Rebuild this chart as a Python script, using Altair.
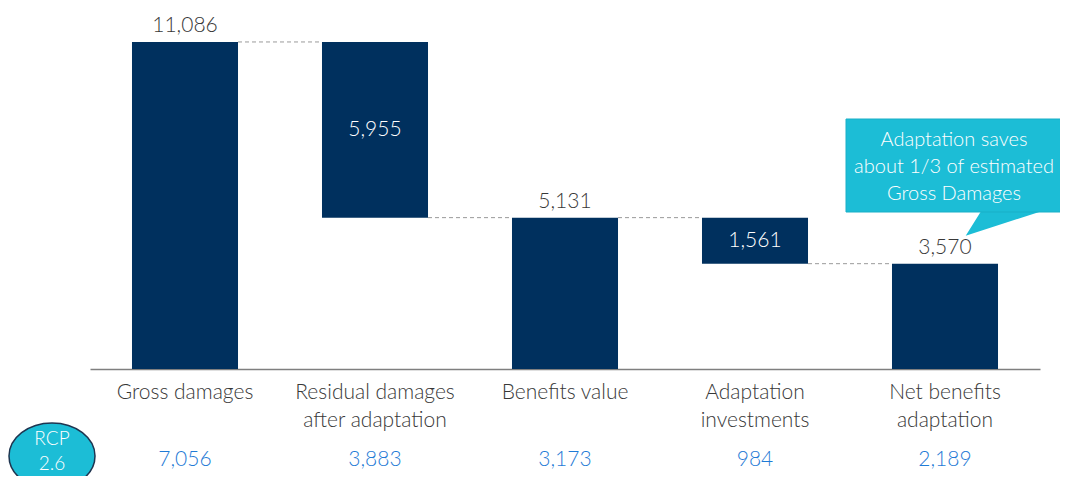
import altair as alt
import pandas as pd

# ---- data ----
categories = ["Gross damages", "Residual damages\nafter adaptation", "Benefits value",
              "Adaptation\ninvestments", "Net benefits\nadaptation"]
bar_start = [0, 5131, 0, 3570, 0]
bar_end = [11086, 11086, 5131, 5131, 3570]
bar_value = [11086, 5955, 5131, 1561, 3570]
label_inside = [False, True, False, True, False]
rcp_values = [7056, 3883, 3173, 984, 2189]
connector_from = [0, 1, 2, 3]
connector_level = [11086, 5131, 5131, 3570]
callout_lines = ["Adaptation saves", "about 1/3 of estimated", "Gross Damages"]
rcp_label = ["RCP", "2.6"]

NAVY = "#00305E"
CYAN = "#1CBDD6"
GRAY = "#383838"
BLUE = "#1F7BD6"
FONT = "Lato"
FW = 300
FS = 21
HALF = 0.279

idx = list(range(len(categories)))
bars = pd.DataFrame({
    "idx": idx, "cat": categories, "start": bar_start, "end": bar_end,
    "value": bar_value, "inside": label_inside, "rcp": rcp_values,
})
bars["x0"] = bars["idx"] - HALF
bars["x1"] = bars["idx"] + HALF
bars["mid"] = (bars["start"] + bars["end"]) / 2

conn = pd.DataFrame({"i": connector_from, "level": connector_level})
conn["x0"] = conn["i"] + HALF
conn["x1"] = conn["i"] + 1 - HALF

xs = alt.Scale(domain=[-0.5, 4.5], nice=False, zero=False)
ys = alt.Scale(domain=[0, 12000], nice=False)

base = alt.Chart(bars)

bar_layer = base.mark_rect(color=NAVY).encode(
    x=alt.X("x0:Q", scale=xs, axis=alt.Axis(labels=False, ticks=False, grid=False, title=None,
                                            domainColor="#7F7F7F", domainWidth=1.5)),
    x2="x1:Q",
    y=alt.Y("start:Q", scale=ys, axis=None),
    y2="end:Q",
)

conn_layer = alt.Chart(conn).mark_rule(color="#9A9A9A", strokeDash=[4, 3], strokeWidth=1).encode(
    x=alt.X("x0:Q", scale=xs), x2="x1:Q", y=alt.Y("level:Q", scale=ys)
)

top_labels = base.transform_filter("!datum.inside").mark_text(
    font=FONT, fontSize=FS, fontWeight=FW, color=GRAY, baseline="middle", dy=-16
).encode(x=alt.X("idx:Q", scale=xs), y=alt.Y("end:Q", scale=ys), text=alt.Text("value:Q", format=","))

in_labels = base.transform_filter("datum.inside").mark_text(
    font=FONT, fontSize=FS, fontWeight=FW, color="white", baseline="middle"
).encode(x=alt.X("idx:Q", scale=xs), y=alt.Y("mid:Q", scale=ys), text=alt.Text("value:Q", format=","))

cat_labels = base.mark_text(
    font=FONT, fontSize=FS, fontWeight=FW, color=GRAY, baseline="top", lineBreak="\n", lineHeight=28
).encode(x=alt.X("idx:Q", scale=xs), y=alt.value(367), text="cat:N")

rcp_layer = base.mark_text(
    font=FONT, fontSize=FS, fontWeight=FW, color=BLUE, baseline="middle"
).encode(x=alt.X("idx:Q", scale=xs), y=alt.value(445), text=alt.Text("rcp:Q", format=","))

ellipse = alt.Chart(pd.DataFrame({"k": [0]})).mark_point(
    shape="M-1,0 A1,0.77 0 1,1 1,0 A1,0.77 0 1,1 -1,0 Z",
    filled=True, fill=CYAN, stroke="#1F3550", strokeWidth=1.5, opacity=1, size=7396,
).encode(x=alt.value(-38), y=alt.value(441))

rcp_text = alt.Chart(pd.DataFrame({"t": rcp_label, "yy": [424, 449]})).mark_text(
    font=FONT, fontSize=19, fontWeight=FW, color="white", baseline="middle"
).encode(x=alt.value(-38), y=alt.Y("yy:Q", scale=None), text="t:N")

pointer = alt.Chart(pd.DataFrame({"k": [0]})).mark_point(
    shape="M-0.595,-0.35 L1,-0.35 L-1,0.297 Z",
    filled=True, fill=CYAN, stroke=CYAN, opacity=1, size=5476,
).encode(x=alt.value(915), y=alt.value(208))

box = alt.Chart(pd.DataFrame({"k": [0]})).mark_rect(fill=CYAN, stroke="#19AFC7", strokeWidth=1).encode(
    x=alt.value(756), x2=alt.value(990), y=alt.value(104), y2=alt.value(197)
)
box_text = alt.Chart(pd.DataFrame({"t": callout_lines, "yy": [125, 152, 179]})).mark_text(
    font=FONT, fontSize=20, fontWeight=FW, color="white", baseline="middle"
).encode(x=alt.value(864), y=alt.Y("yy:Q", scale=None), text="t:N")

chart = alt.layer(
    bar_layer, conn_layer, top_labels, in_labels, cat_labels, rcp_layer,
    ellipse, rcp_text, pointer, box, box_text
).properties(
    width=950, height=354,
    padding={"left": 82, "top": 7, "right": 20, "bottom": 107},
    autosize=alt.AutoSizeParams(type="none"),
).configure_view(stroke=None)

chart.save("out.html", embed_options={"renderer": "svg", "actions": False})
